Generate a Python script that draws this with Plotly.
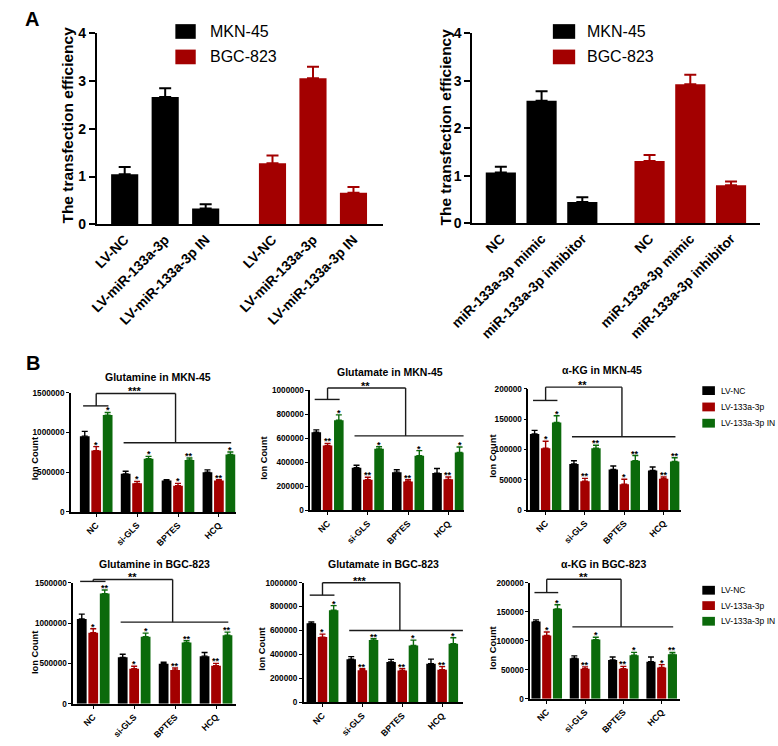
import plotly.graph_objects as go

# ---------------- data ----------------
cell_lines = ["MKN-45", "BGC-823"]

a_left_labels = ["LV-NC", "LV-miR-133a-3p", "LV-miR-133a-3p IN",
                 "LV-NC", "LV-miR-133a-3p", "LV-miR-133a-3p IN"]
a_left_values = [1.05, 2.67, 0.33, 1.28, 3.06, 0.66]
a_left_err = [0.15, 0.18, 0.09, 0.16, 0.24, 0.12]

a_right_labels = ["NC", "miR-133a-3p mimic", "miR-133a-3p inhibitor",
                  "NC", "miR-133a-3p mimic", "miR-133a-3p inhibitor"]
a_right_values = [1.07, 2.58, 0.45, 1.31, 2.93, 0.80]
a_right_err = [0.12, 0.20, 0.10, 0.13, 0.20, 0.08]

a_yticks = [0, 1, 2, 3, 4]

b_categories = ["NC", "si-GLS", "BPTES", "HCQ"]
b_series = ["LV-NC", "LV-133a-3p", "LV-133a-3p IN"]

b_titles = ["Glutamine in MKN-45", "Glutamate in MKN-45", "α-KG in MKN-45",
            "Glutamine in BGC-823", "Glutamate in BGC-823", "α-KG in BGC-823"]

glutamine_mkn_values = [[955000, 480000, 395000, 500000],
                        [773000, 360000, 330000, 395000],
                        [1220000, 670000, 655000, 725000]]
glutamine_mkn_err = [[60000, 32000, 10000, 30000],
                     [50000, 25000, 30000, 12000],
                     [33000, 30000, 25000, 30000]]
glutamine_mkn_stars = [["*", "*", "*", "**"], ["*", "*", "**", "*"]]

glutamate_mkn_values = [[650000, 355000, 318000, 310000],
                        [540000, 255000, 240000, 258000],
                        [750000, 512000, 455000, 482000]]
glutamate_mkn_err = [[20000, 20000, 20000, 38000],
                     [18000, 20000, 15000, 20000],
                     [45000, 18000, 42000, 45000]]
glutamate_mkn_stars = [["**", "**", "**", "**"], ["*", "*", "*", "*"]]

akg_mkn_values = [[125600, 76000, 66800, 65200],
                  [101900, 47400, 42600, 51800],
                  [144500, 101900, 81400, 80300]]
akg_mkn_err = [[6000, 5400, 6000, 5800],
               [11800, 4900, 8100, 2600],
               [11300, 5100, 8600, 6000]]
akg_mkn_stars = [["*", "**", "*", "**"], ["*", "**", "**", "**"]]

glutamine_bgc_values = [[1050000, 575000, 495000, 590000],
                        [880000, 435000, 418000, 470000],
                        [1365000, 830000, 758000, 848000]]
glutamine_bgc_err = [[60000, 38000, 20000, 45000],
                     [50000, 30000, 25000, 30000],
                     [45000, 45000, 22000, 40000]]
glutamine_bgc_stars = [["*", "*", "**", "**"], ["**", "*", "**", "**"]]

glutamate_bgc_values = [[660000, 360000, 337000, 323000],
                        [545000, 268000, 265000, 273000],
                        [770000, 520000, 475000, 490000]]
glutamate_bgc_err = [[12000, 22000, 22000, 38000],
                     [25000, 12000, 15000, 25000],
                     [38000, 12000, 45000, 50000]]
glutamate_bgc_stars = [["*", "**", "**", "**"], ["*", "**", "*", "*"]]

akg_bgc_values = [[133000, 70000, 67000, 64000],
                  [109000, 52000, 52000, 54000],
                  [155000, 102000, 75000, 77000]]
akg_bgc_err = [[3000, 4000, 5000, 8000],
               [6000, 3000, 4000, 5000],
               [7000, 4000, 5000, 3000]]
akg_bgc_stars = [["*", "**", "**", "*"], ["*", "*", "*", "**"]]

# bracket levels: [NC line, top line, treatment line]
b_brackets = [[1336000, 1492000, 871000],
              [924000, 1019000, 620000],
              [181000, 203000, 121000],
              [1516000, 1540000, 1011000],
              [896000, 1000000, 600000],
              [183000, 206000, 124000]]
b_bracket_stars = ["***", "**", "**", "**", "***", "**"]

b_yticks = [[0, 500000, 1000000, 1500000],
            [0, 200000, 400000, 600000, 800000, 1000000],
            [0, 50000, 100000, 150000, 200000],
            [0, 500000, 1000000, 1500000],
            [0, 200000, 400000, 600000, 800000, 1000000],
            [0, 50000, 100000, 150000, 200000]]

b_values = [glutamine_mkn_values, glutamate_mkn_values, akg_mkn_values,
            glutamine_bgc_values, glutamate_bgc_values, akg_bgc_values]
b_errs = [glutamine_mkn_err, glutamate_mkn_err, akg_mkn_err,
          glutamine_bgc_err, glutamate_bgc_err, akg_bgc_err]
b_stars = [glutamine_mkn_stars, glutamate_mkn_stars, akg_mkn_stars,
           glutamine_bgc_stars, glutamate_bgc_stars, akg_bgc_stars]

# ---------------- style / layout ----------------
W, H = 778, 746
BLACK = "#000000"
RED = "#A30000"
GREEN = "#0B6A0B"
SERIES_COLORS = [BLACK, RED, GREEN]
LINE_COLORS = [BLACK, RED]
FONT = "Liberation Sans, Arial, Helvetica, sans-serif"


def fx(p):
    return p / W


def fy(p):
    return 1 - p / H


fig = go.Figure()
annotations = []
shapes = []
layout = {}


def text(t, xp, yp, size, bold=False, xanchor="center", yanchor="middle", angle=0, color=BLACK):
    annotations.append(dict(
        text=t, x=fx(xp), y=fy(yp), xref="paper", yref="paper",
        xanchor=xanchor, yanchor=yanchor, showarrow=False, textangle=angle,
        font=dict(family=FONT, size=size, color=color, weight="bold" if bold else "normal")))


# ---------------- Panel A ----------------
GROUP_GAP = 1.65
a_specs = [
    dict(labels=a_left_labels, values=a_left_values, err=a_left_err, n=1,
         px=(76, 371), py=(26, 221), xr=(-0.69, 6.38), w=0.67,
         title_xy=(45.5, 120), leg_sq=(157, 178), leg_tx=191),
    dict(labels=a_right_labels, values=a_right_values, err=a_right_err, n=2,
         px=(463, 759), py=(26, 220), xr=(-0.70, 6.35), w=0.74,
         title_xy=(435, 122), leg_sq=(546, 569), leg_tx=579),
]
for s in a_specs:
    n = s["n"]
    pos = [float(i) for i in range(3)] + [2 + GROUP_GAP + i for i in range(3)]
    for g in range(2):
        idx = slice(3 * g, 3 * g + 3)
        fig.add_trace(go.Bar(
            x=pos[idx], y=s["values"][idx], width=s["w"], offset=-s["w"] / 2,
            marker=dict(color=LINE_COLORS[g], line=dict(width=0)),
            error_y=dict(type="data", array=s["err"][idx], arrayminus=[0, 0, 0],
                         symmetric=False, color=LINE_COLORS[g], thickness=2, width=6),
            xaxis=f"x{n}", yaxis=f"y{n}", showlegend=False, name=cell_lines[g]))
    layout[f"xaxis{n}"] = dict(
        domain=[fx(s["px"][0]), fx(s["px"][1])], range=list(s["xr"]), anchor=f"y{n}",
        tickvals=pos, ticktext=s["labels"], tickangle=-45, ticks="",
        tickfont=dict(family=FONT, size=13.8, color=BLACK, weight="bold"),
        showline=True, linecolor=BLACK, linewidth=2, showgrid=False, zeroline=False)
    layout[f"yaxis{n}"] = dict(
        domain=[fy(s["py"][1]), fy(s["py"][0])], range=[0, 4], anchor=f"x{n}",
        tickvals=a_yticks, ticks="outside", ticklen=6, tickwidth=2, tickcolor=BLACK,
        tickfont=dict(family=FONT, size=14, color=BLACK, weight="bold"),
        showline=True, linecolor=BLACK, linewidth=2, showgrid=False, zeroline=False)
    text("The transfection efficiency", s["title_xy"][0], s["title_xy"][1], 15.5,
         bold=True, angle=-90)
    for g, yc in enumerate([24, 50]):
        shapes.append(dict(type="rect", xref="paper", yref="paper",
                           x0=fx(s["leg_sq"][0]), x1=fx(s["leg_sq"][1]),
                           y0=fy(yc + 7.5), y1=fy(yc - 7.5),
                           fillcolor=LINE_COLORS[g], line=dict(width=0)))
        text(cell_lines[g], s["leg_tx"], yc, 16, xanchor="left")

text("A", 0, 11, 20, bold=True, xanchor="left")
text("B", 1, 363, 20, bold=True, xanchor="left")

# ---------------- Panel B ----------------
b_specs = [
    dict(px=(49.3, 220), py=(393.3, 515), xr=(-0.62, 3.43), title=(139, 377.5), ylab=(12.5, 461)),
    dict(px=(296, 454), py=(390.7, 513.3), xr=(-0.43, 3.38), title=(378, 371.5), ylab=(248, 460)),
    dict(px=(520.7, 678), py=(389.3, 513), xr=(-0.44, 3.44), title=(597, 369.5), ylab=(484, 458)),
    dict(px=(51.7, 220), py=(587.3, 711), xr=(-0.49, 3.50), title=(136, 568), ylab=(12.5, 659)),
    dict(px=(289.3, 453.3), py=(587.3, 709.5), xr=(-0.47, 3.52), title=(371, 568), ylab=(246, 655)),
    dict(px=(522.7, 676.7), py=(587.3, 706), xr=(-0.43, 3.47), title=(598, 568), ylab=(484, 654)),
]
SLOT = 0.28
for k, s in enumerate(b_specs):
    n = k + 3
    vals, errs = b_values[k], b_errs[k]
    ymax = b_yticks[k][-1]
    for j in range(3):
        fig.add_trace(go.Bar(
            x=b_categories, y=vals[j], name=b_series[j],
            marker=dict(color=SERIES_COLORS[j], line=dict(width=0)),
            error_y=dict(type="data", array=errs[j], arrayminus=[0] * 4, symmetric=False,
                         color=SERIES_COLORS[j], thickness=1.4, width=3),
            xaxis=f"x{n}", yaxis=f"y{n}", showlegend=False))
    layout[f"xaxis{n}"] = dict(
        domain=[fx(s["px"][0]), fx(s["px"][1])], range=list(s["xr"]), anchor=f"y{n}",
        type="category", categoryorder="array", categoryarray=b_categories,
        tickangle=-45, ticks="outside", ticklen=3, tickwidth=1.3, tickcolor=BLACK,
        tickfont=dict(family=FONT, size=8.8, color=BLACK, weight="bold"),
        showline=True, linecolor=BLACK, linewidth=1.5, showgrid=False, zeroline=False)
    layout[f"yaxis{n}"] = dict(
        domain=[fy(s["py"][1]), fy(s["py"][0])], range=[0, ymax], anchor=f"x{n}",
        tickvals=b_yticks[k], tickformat="d", ticks="outside", ticklen=3, tickwidth=1.3,
        tickcolor=BLACK, tickfont=dict(family=FONT, size=8.2, color=BLACK, weight="bold"),
        showline=True, linecolor=BLACK, linewidth=1.5, showgrid=False, zeroline=False)
    # significance stars above bars (red and green series)
    for j in (1, 2):
        for i in range(4):
            annotations.append(dict(
                text=b_stars[k][j - 1][i], x=i + (j - 1) * SLOT, y=vals[j][i] + errs[j][i],
                xref=f"x{n}", yref=f"y{n}", xanchor="center", yanchor="bottom",
                showarrow=False, yshift=-4, borderpad=0,
                font=dict(family=FONT, size=9, color=BLACK, weight="bold")))
    # brackets
    xr0, xr1 = s["xr"]
    nc_lvl, top_lvl, tr_lvl = b_brackets[k]
    tr_right = xr1 if k in (1, 4) else 3.3

    def dx(v):
        return (v - xr0) / (xr1 - xr0)

    def dy(v):
        return v / ymax

    segs = [(-0.32, nc_lvl, 0.30, nc_lvl), (0, nc_lvl, 0, top_lvl), (0, top_lvl, 1.94, top_lvl),
            (1.94, top_lvl, 1.94, tr_lvl), (0.67, tr_lvl, tr_right, tr_lvl)]
    for (a, b, c, d) in segs:
        shapes.append(dict(type="line", xref=f"x{n} domain", yref=f"y{n} domain",
                           x0=dx(a), y0=dy(b), x1=dx(c), y1=dy(d),
                           line=dict(color="#1a1a1a", width=1.4)))
    annotations.append(dict(
        text=b_bracket_stars[k], x=dx(0.95), y=dy(top_lvl), xref=f"x{n} domain",
        yref=f"y{n} domain", xanchor="center", yanchor="bottom", showarrow=False,
        yshift=-5, borderpad=0, font=dict(family=FONT, size=11, color=BLACK, weight="bold")))
    text(b_titles[k], s["title"][0], s["title"][1], 10.5, bold=True)
    text("Ion Count", s["ylab"][0], s["ylab"][1], 9.3, bold=True, angle=-90)

# legends for panel B
for row_centers in ([391, 407.7, 424.3], [595, 610.7, 626.7]):
    for j, yc in enumerate(row_centers):
        shapes.append(dict(type="rect", xref="paper", yref="paper",
                           x0=fx(700), x1=fx(713), y0=fy(yc + 4.5), y1=fy(yc - 4.5),
                           fillcolor=SERIES_COLORS[j], line=dict(width=0)))
        text(b_series[j], 717, yc, 8.5, xanchor="left")

fig.update_layout(
    width=W, height=H, autosize=False,
    margin=dict(l=0, r=0, t=0, b=0),
    paper_bgcolor="white", plot_bgcolor="white",
    barmode="group", bargap=0.16, bargroupgap=0.15,
    showlegend=False,
    font=dict(family=FONT, color=BLACK),
    annotations=annotations, shapes=shapes,
    **layout)

fig.write_html(
    "out.html",
    config={"displayModeBar": False},
    post_script="document.body.style.margin='0px';document.body.style.overflow='hidden';",
)
